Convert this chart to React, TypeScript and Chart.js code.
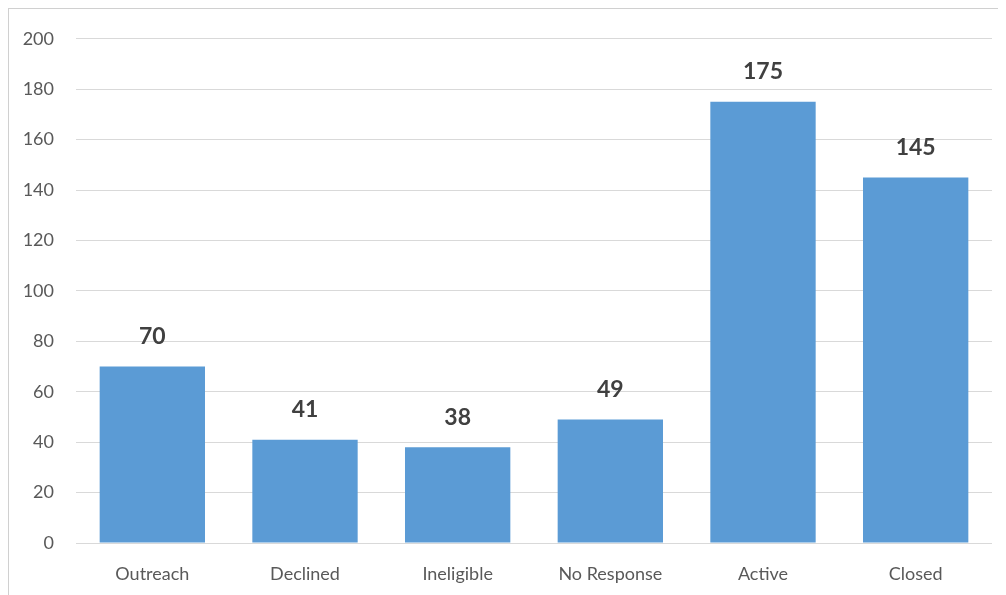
import React, { useEffect, useRef } from "react";
import { Chart, registerables } from "chart.js";

Chart.register(...registerables);

const categories = ["Outreach", "Declined", "Ineligible", "No Response", "Active", "Closed"];
const values = [70, 41, 38, 49, 175, 145];
const yTicks = [0, 20, 40, 60, 80, 100, 120, 140, 160, 180, 200];

const FONT = "Lato, 'Open Sans', sans-serif";

const labelPlugin = {
  id: "barLabels",
  afterDatasetsDraw(chart: any) {
    const ctx = chart.ctx;
    const meta = chart.getDatasetMeta(0);
    ctx.save();
    ctx.font = `bold 23px ${FONT}`;
    ctx.fillStyle = "#404040";
    ctx.textAlign = "center";
    ctx.textBaseline = "middle";
    meta.data.forEach((bar: any, i: number) => {
      ctx.fillText(String(values[i]), bar.x, bar.y - 30);
    });
    ctx.restore();
  },
};

export default function App() {
  const ref = useRef<HTMLCanvasElement>(null);
  useEffect(() => {
    if (!ref.current) return;
    const chart = new Chart(ref.current, {
      type: "bar",
      data: {
        labels: categories,
        datasets: [
          {
            data: values,
            backgroundColor: "#5B9BD5",
            borderWidth: 0,
            categoryPercentage: 1,
            barPercentage: 0.69,
          },
        ],
      },
      options: {
        animation: false,
        responsive: false,
        maintainAspectRatio: false,
        layout: { padding: { top: 26, right: 14, left: 0, bottom: 0 } },
        plugins: { legend: { display: false }, tooltip: { enabled: false } },
        scales: {
          x: {
            grid: { display: false },
            border: { display: false },
            ticks: { color: "#595959", font: { family: FONT, size: 18 }, padding: 12 },
            afterFit: (s: any) => {
              s.height = 52;
            },
          },
          y: {
            min: 0,
            max: 200,
            afterBuildTicks: (s: any) => {
              s.ticks = yTicks.map((v) => ({ value: v }));
            },
            grid: { color: "#d9d9d9", lineWidth: 1, drawTicks: false },
            border: { display: false },
            ticks: { color: "#595959", font: { family: FONT, size: 18 }, padding: 22 },
            afterFit: (s: any) => {
              s.width = 68;
            },
          },
        },
      },
      plugins: [labelPlugin],
    });
    return () => chart.destroy();
  }, []);
  return (
    <div
      style={{
        borderTop: "1px solid #d0d0d0",
        borderLeft: "1px solid #d0d0d0",
        width: 998,
        height: 587,
        boxSizing: "border-box",
        overflow: "hidden",
      }}
    >
      <canvas
        ref={ref}
        width={998}
        height={589}
        style={{ display: "block", marginTop: -3, marginLeft: -1 }}
      />
    </div>
  );
}
